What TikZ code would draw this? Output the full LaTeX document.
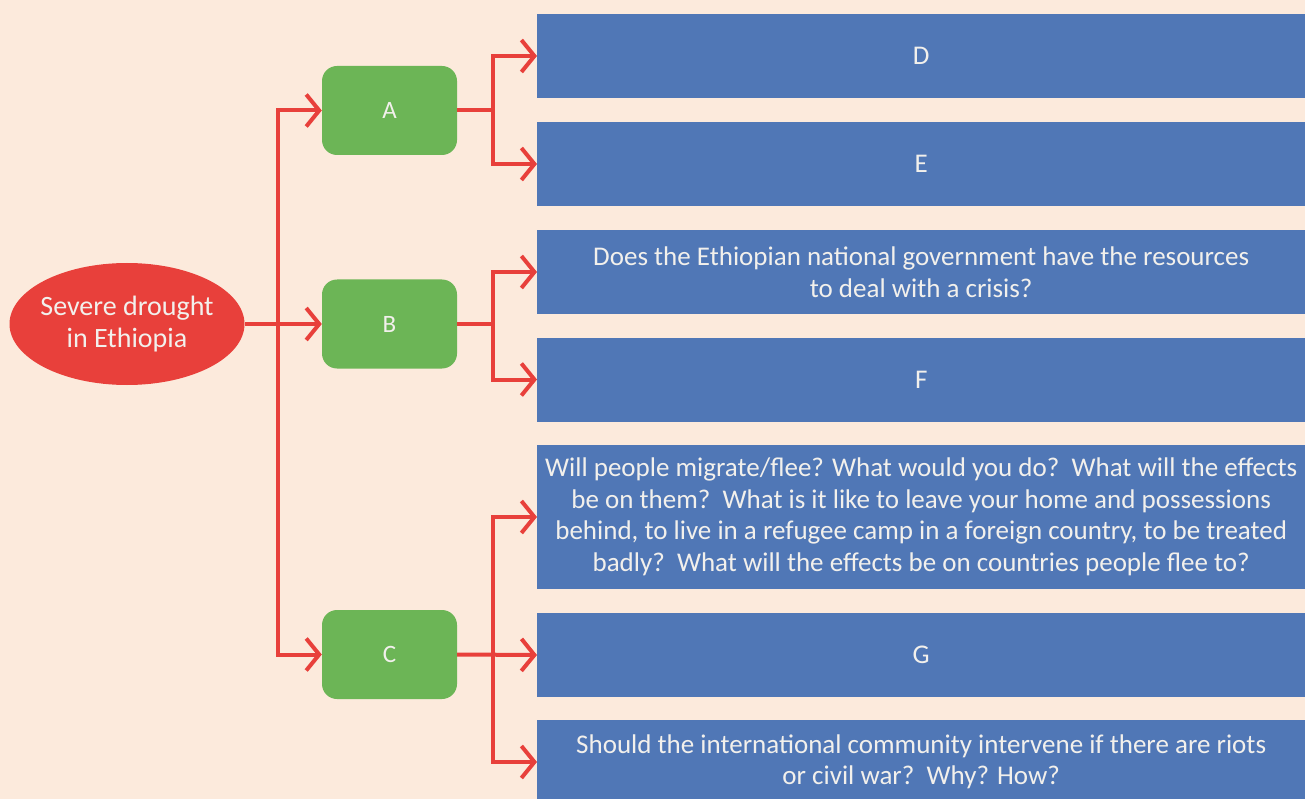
\documentclass[tikz,border=0pt]{standalone}
\usepackage{fontspec}
\setmainfont{Carlito}
\usetikzlibrary{arrows.meta,shapes.geometric}
\definecolor{bgc}{HTML}{FCEADC}
\definecolor{bluec}{HTML}{5077B6}
\definecolor{greenc}{HTML}{6CB556}
\definecolor{redc}{HTML}{E8403B}
\definecolor{txtc}{HTML}{F2F0EC}
\tikzset{
  bluebox/.style={fill=bluec, draw=none, minimum width=768pt, minimum height=84pt, inner sep=0pt, text=txtc, font=\fontsize{27}{31.5}\selectfont, align=center, anchor=west},
  greenbox/.style={fill=greenc, draw=none, rounded corners=15pt, minimum width=135pt, minimum height=89pt, text=txtc, font=\fontsize{25}{28}\selectfont},
  redell/.style={ellipse, fill=redc, draw=none, minimum width=235pt, minimum height=122pt, inner sep=0pt},
  elltext/.style={text=txtc, font=\fontsize{28}{32}\selectfont, align=center, inner sep=0pt},
  conn/.style={draw=redc, line width=4pt},
  arr/.style={conn, -{Straight Barb[length=13pt,width=32pt,line width=4pt]}},
}
\begin{document}
\begin{tikzpicture}[x=1pt,y=-1pt]
\useasboundingbox (0,0) rectangle (1305,799);
\clip (0,0) rectangle (1305,799);
\fill[bgc] (0,0) rectangle (1305,799);
% root
\node[redell] (S) at (127,324) {};
\node[elltext] (St) at (S.center) {Severe drought\\in Ethiopia};
% green
\node[greenbox] (A) at (389.5,110.5) {A};
\node[greenbox] (B) at (389.5,324) {B};
\node[greenbox] (C) at (389.5,654.5) {C};
% blue
\node[bluebox] (D) at (537,56) {D};
\node[bluebox] (E) at (537,164) {E};
\node[bluebox] (Q1) at (537,272) {Does the Ethiopian national government have the resources\\to deal with a crisis?};
\node[bluebox] (F) at (537,379.5) {F};
\node[bluebox, minimum height=144pt] (Q2) at (537,517) {Will people migrate/flee? What would you do?\ \ What will the effects\\be on them?\ \ What is it like to leave your home and possessions\\behind, to live in a refugee camp in a foreign country, to be treated\\badly?\ \ What will the effects be on countries people flee to?};
\node[bluebox] (G) at (537,655) {G};
\node[bluebox] (Q3) at (537,762) {Should the international community intervene if there are riots\\or civil war?\ \ Why? How?};
% connectors root
\coordinate (T) at (278,324);
\draw[arr] (S.east) -- (B.west);
\draw[arr] (T) |- (A.west);
\draw[arr] (T) |- (C.west);
% A branches
\coordinate (aj) at (493,110.5);
\draw[conn] (A.east) -- (aj);
\draw[arr] (aj) |- (D.west);
\draw[arr] (aj) |- (E.west);
% B branches
\coordinate (bj) at (493,324);
\draw[conn] (B.east) -- (bj);
\draw[arr] (bj) |- (Q1.west);
\draw[arr] (bj) |- (F.west);
% C branches
\coordinate (cj) at (493,654.5);
\draw[arr] (C.east) -- (G.west);
\draw[arr] (cj) |- (Q2.west);
\draw[arr] (cj) |- (Q3.west);
\end{tikzpicture}
\end{document}
